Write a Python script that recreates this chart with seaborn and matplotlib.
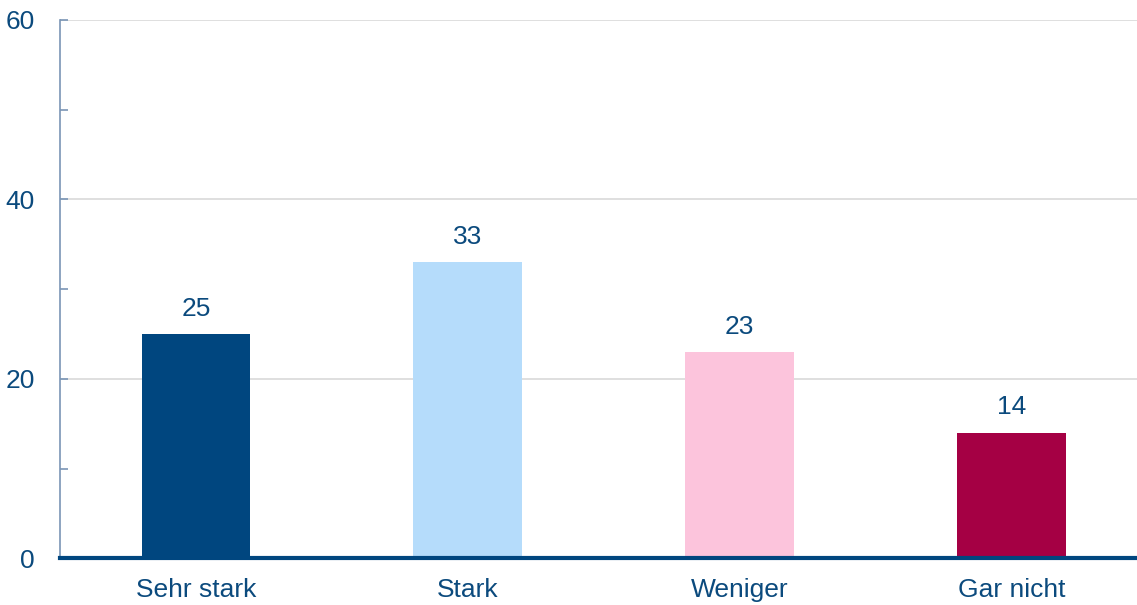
import pandas as pd
import numpy as np
import matplotlib.pyplot as plt
import seaborn as sns
from matplotlib.ticker import MultipleLocator

# data
categories = ['Sehr stark', 'Stark', 'Weniger', 'Gar nicht']
values = [25, 33, 23, 14]
bar_colors = ['#00467f', '#b5dcfb', '#fcc4dc', '#a50044']

text_color = '#0b4a7d'

sns.set_style('white')
plt.rcParams['font.family'] = ['Liberation Sans', 'DejaVu Sans']

df = pd.DataFrame({'Kategorie': categories, 'Wert': values})

fig = plt.figure(figsize=(11.37, 6.05), dpi=100)
ax = fig.add_axes([0.0528, 0.0769, 0.9564, 0.8901])

sns.barplot(data=df, x='Kategorie', y='Wert', hue='Kategorie', palette=bar_colors,
            width=0.4, legend=False, ax=ax, saturation=1, linewidth=0)

ax.set_ylim(0, 60)
ax.set_xlim(-0.5, 3.5)
ax.yaxis.set_major_locator(MultipleLocator(20))
ax.yaxis.set_minor_locator(MultipleLocator(10))
ax.grid(axis='y', which='major', color='#d9d9d9', linewidth=1.2)
ax.set_axisbelow(True)

for s in ['top', 'right']:
    ax.spines[s].set_visible(False)
ax.spines['left'].set_color('#7a95b5')
ax.spines['left'].set_linewidth(1.2)
ax.spines['bottom'].set_color('#00467f')
ax.spines['bottom'].set_linewidth(3)
ax.spines['bottom'].set_zorder(5)

ax.tick_params(axis='y', which='both', left=True, direction='in', length=6, width=1.2,
               color='#7a95b5', labelsize=19, labelcolor=text_color, pad=18)
ax.tick_params(axis='x', bottom=False, length=0, labelsize=19, labelcolor=text_color, pad=14)

for i, v in enumerate(values):
    ax.text(i, v + 1.5, str(v), ha='center', va='bottom', fontsize=19, color=text_color)

ax.set_xlabel('')
ax.set_ylabel('')

plt.savefig('out.png', dpi=100)
